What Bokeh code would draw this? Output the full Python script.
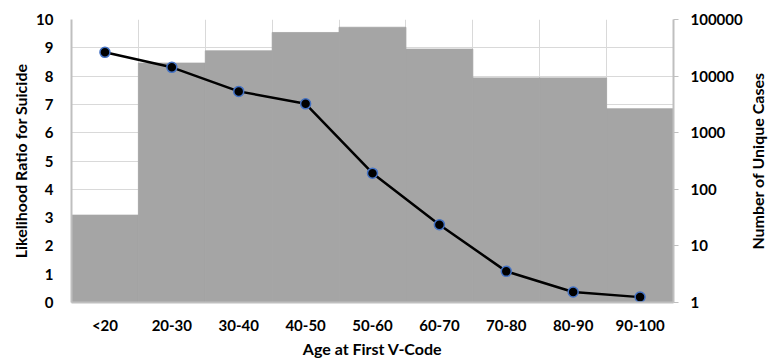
import math
from bokeh.plotting import figure
from bokeh.models import Range1d, LogAxis, LogScale, FixedTicker, ColumnDataSource, Label
from bokeh.embed import file_html
from bokeh.resources import INLINE

categories = ["<20", "20-30", "30-40", "40-50", "50-60", "60-70", "70-80", "80-90", "90-100"]
likelihood_ratio = [8.84, 8.31, 7.46, 7.02, 4.57, 2.75, 1.10, 0.37, 0.19]
unique_cases = [35, 17000, 28000, 59000, 73000, 30000, 9300, 9300, 2650]
left_ticks = list(range(0, 11))
right_ticks = [1, 10, 100, 1000, 10000, 100000]
right_tick_labels = ["1", "10", "100", "1000", "10000", "100000"]

FONT = "Lato"
FW, FH = 602, 283
x = [i + 0.5 for i in range(len(categories))]
src = ColumnDataSource(dict(x=x, cat=categories, lr=likelihood_ratio, cases=unique_cases,
                            base=[1] * len(categories)))

p = figure(frame_width=FW, frame_height=FH, x_range=Range1d(0, len(categories)), y_range=Range1d(0, 10),
           output_backend="svg", toolbar_location=None,
           min_border_left=71, min_border_right=100, min_border_top=19, min_border_bottom=38)
p.extra_y_ranges = {"cases": Range1d(1, 100000)}
p.extra_y_scales = {"cases": LogScale()}
p.outline_line_color = None
p.background_fill_color = "white"
p.border_fill_color = "white"

p.vbar(x="x", width=1.0, top="cases", bottom="base", source=src, y_range_name="cases",
       fill_color="#A5A5A5", line_color="#A5A5A5", line_width=0.8)
p.line(x="x", y="lr", source=src, line_color="black", line_width=2.5)
p.scatter(x="x", y="lr", source=src, size=10, fill_color="black", line_color="#4472C4", line_width=1.5)

# x axis
xa = p.xaxis[0]
xa.ticker = FixedTicker(ticks=x)
xa.major_label_overrides = {float(v): c for v, c in zip(x, categories)}
xa.axis_label = "Age at First V-Code"
p.xgrid[0].ticker = FixedTicker(ticks=list(range(len(categories) + 1)))

# left axis
ya = p.yaxis[0]
ya.ticker = FixedTicker(ticks=left_ticks)
ya.axis_label = "Likelihood Ratio for Suicide"

# right axis
ra = LogAxis(y_range_name="cases", ticker=FixedTicker(ticks=right_ticks),
             major_label_overrides={t: s for t, s in zip(right_ticks, right_tick_labels)})
p.add_layout(ra, "right")

for ax in (xa, ya, ra):
    ax.axis_line_color = "#BFBFBF"
    ax.axis_line_width = 2
    ax.major_tick_line_color = None
    ax.minor_tick_line_color = None
    ax.major_label_text_font = FONT
    ax.major_label_text_font_style = "bold"
    ax.major_label_text_font_size = "15px"
    ax.major_label_text_color = "black"
    ax.axis_label_text_font = FONT
    ax.axis_label_text_font_style = "bold"
    ax.axis_label_text_font_size = "16px"
    ax.axis_label_text_color = "black"

ra.major_tick_line_color = "#BFBFBF"
ra.major_tick_out = 5
ra.major_tick_in = 0
ra.major_label_standoff = 12
ya.major_label_standoff = 12
xa.major_label_standoff = 7
xa.axis_label_standoff = 2
ya.axis_label_standoff = 3

right_title = Label(x=12, y=FH / 2, x_units="screen", y_units="screen",
                    text="Number of Unique Cases", angle=math.pi / 2,
                    text_align="center", text_baseline="middle",
                    text_font=FONT, text_font_style="bold", text_font_size="16px",
                    text_color="black")
p.add_layout(right_title, "right")

for g in (p.xgrid[0], p.ygrid[0]):
    g.grid_line_color = "#D9D9D9"
    g.grid_line_width = 1

open("out.html", "w").write(file_html(p, INLINE))
